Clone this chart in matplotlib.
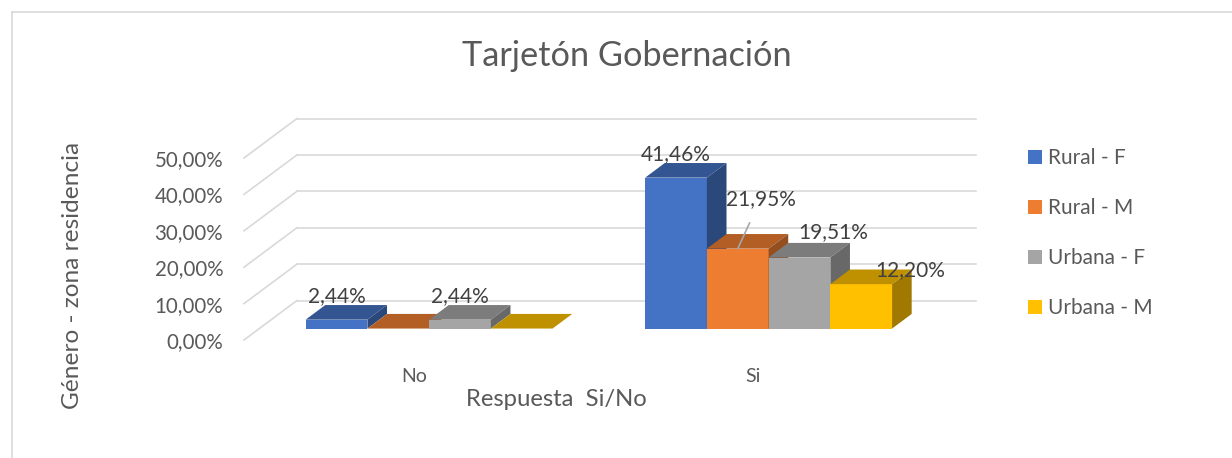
import matplotlib
matplotlib.use("Agg")
import matplotlib.pyplot as plt
from matplotlib.patches import Polygon, Patch
from matplotlib.lines import Line2D

# ---------------- data ----------------
categories = ["No", "Si"]
series_names = ["Rural - F", "Rural - M", "Urbana - F", "Urbana - M"]
rural_f = [2.44, 41.46]
rural_m = [0.0, 21.95]
urbana_f = [2.44, 19.51]
urbana_m = [0.0, 12.20]
series_values = [rural_f, rural_m, urbana_f, urbana_m]
y_ticks = [0, 10, 20, 30, 40, 50]
y_tick_labels = ["0,00%", "10,00%", "20,00%", "30,00%", "40,00%", "50,00%"]
title = "Tarjetón Gobernación"
x_title = "Respuesta  Si/No"
y_title = "Género - zona residencia"

# ---------------- style ----------------
colors = ["#4472C4", "#ED7D31", "#A5A5A5", "#FFC000"]
text_color = "#595959"
grid_color = "#D9D9D9"
FONT = ["Lato", "DejaVu Sans"]
plt.rcParams["font.family"] = FONT

def shade(hexc, f):
    c = matplotlib.colors.to_rgb(hexc)
    return tuple(v * f for v in c)

W, H = 1232, 458
fig = plt.figure(figsize=(W / 100, H / 100), dpi=100)
fig.patch.set_facecolor("white")

def fx(px):
    return px / W

def fy(py):
    return 1 - py / H

# plot area (front plane of the 3D box)
ax = fig.add_axes([fx(244), fy(340), (923 - 244) / W, (340 - 158) / H])
ax.set_xlim(-0.5, 1.5)
ax.set_ylim(0, 50)
for s in ax.spines.values():
    s.set_visible(False)
ax.set_facecolor("none")

# oblique depth offsets (data units)
DX = 53 / 339.5
DY = 39.5 / 3.64
bar_w = 1 / 5.5
d0 = 0.29      # front of bars (fraction of depth)
dd = 0.37      # bar depth (fraction of depth)

# gridlines: back wall + side wall
for v in y_ticks:
    ax.plot([-0.5 + DX, 1.5 + DX], [v + DY, v + DY], color=grid_color,
            lw=1.2, clip_on=False, zorder=1)
    ax.plot([-0.5, -0.5 + DX], [v, v + DY], color=grid_color,
            lw=1.2, clip_on=False, zorder=1)

# bars
label_offsets = {(0, 0): (0, 24), (0, 2): (0, 24), (1, 0): (0, 24),
                 (1, 1): (23, 50), (1, 2): (34, 25), (1, 3): (49, 14)}
z = 2
for ci in range(len(categories)):
    for si, vals in enumerate(series_values):
        h = vals[ci]
        x0 = ci - 2 * bar_w + si * bar_w + d0 * DX
        y0 = d0 * DY
        ddx, ddy = dd * DX, dd * DY
        front = [(x0, y0), (x0 + bar_w, y0), (x0 + bar_w, y0 + h), (x0, y0 + h)]
        top = [(x0, y0 + h), (x0 + bar_w, y0 + h),
               (x0 + bar_w + ddx, y0 + h + ddy), (x0 + ddx, y0 + h + ddy)]
        side = [(x0 + bar_w, y0), (x0 + bar_w + ddx, y0 + ddy),
                (x0 + bar_w + ddx, y0 + h + ddy), (x0 + bar_w, y0 + h)]
        for poly, col in ((front, colors[si]), (top, shade(colors[si], 0.75)),
                          (side, shade(colors[si], 0.63))):
            ax.add_patch(Polygon(poly, closed=True, facecolor=col,
                                 edgecolor="none", clip_on=False, zorder=z))
        z += 1
        if h > 0:
            off = label_offsets.get((ci, si), (0, 24))
            lbl = f"{h:.2f}%".replace(".", ",")
            arrow = None
            if off[1] > 40:
                arrow = dict(arrowstyle="-", color="#A6A6A6", lw=1.2,
                             shrinkA=9, shrinkB=0)
            ax.annotate(lbl, xy=(x0 + bar_w / 2, y0 + h), xytext=off,
                        textcoords="offset pixels", ha="center", va="center",
                        fontsize=15, color="#404040", zorder=50,
                        annotation_clip=False, arrowprops=arrow)

# axes ticks
ax.set_yticks(y_ticks)
ax.set_yticklabels(y_tick_labels)
ax.set_xticks(range(len(categories)))
ax.set_xticklabels(categories)
ax.tick_params(axis="y", length=0, pad=15, labelsize=14.8, labelcolor=text_color)
ax.tick_params(axis="x", length=0, pad=20, labelsize=14, labelcolor=text_color)

# titles
fig.text(fx(627), fy(56), title, ha="center", va="center", fontsize=24.7,
         color=text_color)
fig.text(fx(556), fy(400), x_title, ha="center", va="center", fontsize=17.2,
         color=text_color)
fig.text(fx(73), fy(275), y_title, ha="center", va="center", fontsize=17.6,
         color=text_color, rotation=90)

# legend
handles = [Patch(facecolor=c, edgecolor="none") for c in colors]
leg = fig.legend(handles, series_names, loc="upper left",
                 bbox_to_anchor=(fx(1020), fy(140)), frameon=False,
                 fontsize=15, handlelength=0.65, handleheight=0.65,
                 handletextpad=0.3, labelspacing=1.44, borderaxespad=0)
for t in leg.get_texts():
    t.set_color(text_color)

# chart border (left and top visible)
fig.add_artist(Line2D([fx(12), fx(12)], [fy(12), 0], color=grid_color, lw=1.2))
fig.add_artist(Line2D([fx(12), 1], [fy(12), fy(12)], color=grid_color, lw=1.2))

fig.savefig("out.png", dpi=100, facecolor="white")
